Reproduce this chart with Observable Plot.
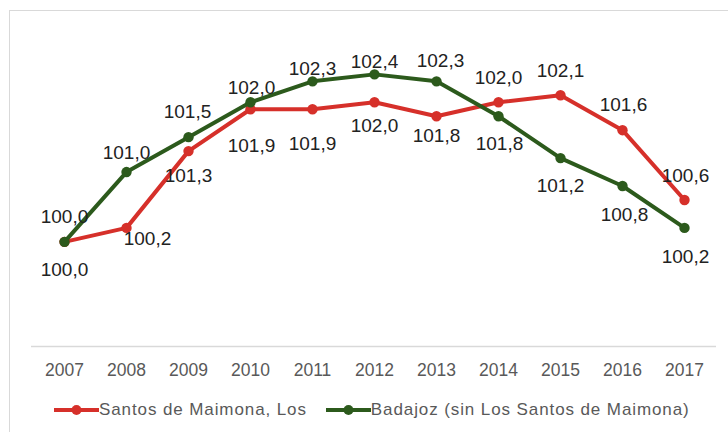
<!DOCTYPE html>
<html><head><meta charset="utf-8">
<script src="https://cdn.jsdelivr.net/npm/d3@7"></script>
<script src="https://cdn.jsdelivr.net/npm/@observablehq/plot@0.6"></script>
<style>
html,body{margin:0;padding:0;background:#fff;overflow:hidden;width:728px;height:432px;}
#frame{position:absolute;left:9px;top:10px;width:760px;height:460px;border:1px solid #d9d9d9;box-sizing:border-box;pointer-events:none;}
#chart{position:absolute;left:0;top:0;}
#legend{position:absolute;left:0;top:390px;width:728px;height:40px;display:flex;align-items:center;font-family:"Liberation Sans",sans-serif;font-size:17px;letter-spacing:0.9px;color:#595959;white-space:nowrap;}
.item{display:flex;align-items:center;}
</style></head><body>
<div id="chart"></div><div id="legend"></div><div id="frame"></div>
<script>
// ---- data ----
const years = [2007, 2008, 2009, 2010, 2011, 2012, 2013, 2014, 2015, 2016, 2017];
const santos = [100.0, 100.2, 101.3, 101.9, 101.9, 102.0, 101.8, 102.0, 102.1, 101.6, 100.6];
const badajoz = [100.0, 101.0, 101.5, 102.0, 102.3, 102.4, 102.3, 101.8, 101.2, 100.8, 100.2];
const seriesNames = ["Santos de Maimona, Los", "Badajoz (sin Los Santos de Maimona)"];
const seriesColors = ["#d6302a", "#2c5a1c"];

// ---- label nudges (px, relative to each point) ----
const santosNudge = [[0,28],[21,11],[0,25],[1,37],[0,35],[0,24],[0,20],[0,-24],[0,-24],[1,-25],[1,-24]];
const badajozNudge = [[0,-25],[0,-19],[-1,-25],[1,-14],[0,-12],[0,-12],[4,-20],[1,28],[0,28],[2,29],[1,29]];

const fmt = v => v.toFixed(1).replace(".", ",");
const rows = [];
years.forEach((y, i) => {
  rows.push({year: y, value: santos[i], series: seriesNames[0], nudge: santosNudge[i]});
});
years.forEach((y, i) => {
  rows.push({year: y, value: badajoz[i], series: seriesNames[1], nudge: badajozNudge[i]});
});

const marks = [
  Plot.ruleY([98.5], {stroke: "#d9d9d9", strokeWidth: 1.5}),
  Plot.axisX({tickSize: 0, tickPadding: 17, fontSize: 17.5, color: "#595959", fontFamily: "Liberation Sans",
              label: null, tickFormat: d => String(d)}),
];
seriesNames.forEach((name, k) => {
  const d = rows.filter(r => r.series === name);
  marks.push(Plot.line(d, {x: "year", y: "value", stroke: seriesColors[k], strokeWidth: 4}));
  marks.push(Plot.dot(d, {x: "year", y: "value", r: 5.2, fill: seriesColors[k]}));
});
rows.forEach(r => {
  marks.push(Plot.text([r], {
    x: "year", y: "value", text: d => fmt(d.value),
    dx: r.nudge[0], dy: r.nudge[1],
    fontSize: 19, fill: "#222", lineAnchor: "middle", textAnchor: "middle",
    fontFamily: "Liberation Sans"
  }));
});

const chart = Plot.plot({
  width: 728, height: 390,
  marginTop: 32, marginBottom: 44, marginLeft: 31, marginRight: 12,
  style: {background: "transparent", fontFamily: "Liberation Sans"},
  x: {type: "point", domain: years, padding: 0.5, axis: null, label: null},
  y: {domain: [98.5, 103], axis: null},
  marks
});
document.getElementById("chart").appendChild(chart);

// ---- legend ----
const legend = document.getElementById("legend");
legend.style.paddingLeft = "54px";
seriesNames.forEach((name, k) => {
  const item = document.createElement("div");
  item.className = "item";
  item.style.marginRight = k === 0 ? "19px" : "0";
  const ns = "http://www.w3.org/2000/svg";
  const svg = document.createElementNS(ns, "svg");
  svg.setAttribute("width", "45"); svg.setAttribute("height", "14");
  const ln = document.createElementNS(ns, "line");
  ln.setAttribute("x1", "0"); ln.setAttribute("x2", "45"); ln.setAttribute("y1", "7"); ln.setAttribute("y2", "7");
  ln.setAttribute("stroke", seriesColors[k]); ln.setAttribute("stroke-width", "4");
  const c = document.createElementNS(ns, "circle");
  c.setAttribute("cx", "22.5"); c.setAttribute("cy", "7"); c.setAttribute("r", "5"); c.setAttribute("fill", seriesColors[k]);
  svg.appendChild(ln); svg.appendChild(c);
  const t = document.createElement("span");
  t.textContent = name;
  item.appendChild(svg); item.appendChild(t);
  legend.appendChild(item);
});
</script>
</body></html>
